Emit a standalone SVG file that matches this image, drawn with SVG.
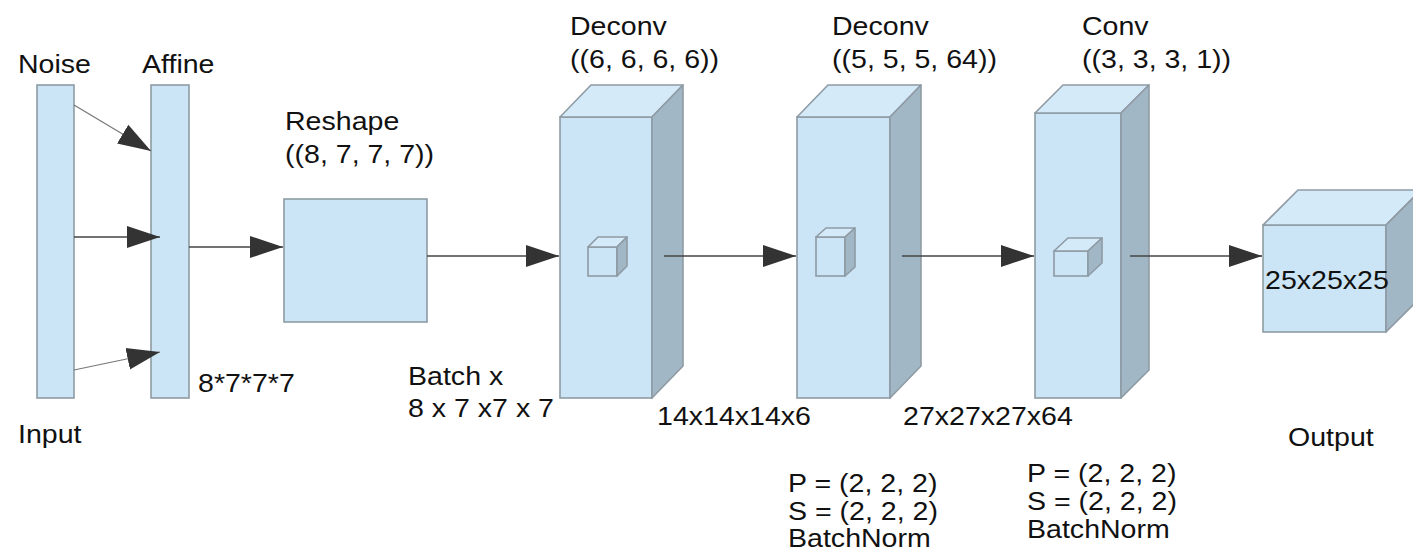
<svg xmlns="http://www.w3.org/2000/svg" width="1413" height="558" viewBox="0 0 1413 558">
<defs>
<style>
.front{fill:#cce5f6;stroke:#8e9ba4;stroke-width:1.6}
.top{fill:#d5eaf8;stroke:#8e9ba4;stroke-width:1.6;stroke-linejoin:round}
.side{fill:#a2b7c5;stroke:#8e9ba4;stroke-width:1.6;stroke-linejoin:round}
.lbl{font-family:"Liberation Sans",Arial,sans-serif;font-size:25.5px;fill:#111}
.conn line{stroke:#444;stroke-width:1.6;marker-end:url(#ah)}
</style>
<marker id="ah" markerUnits="userSpaceOnUse" markerWidth="34" markerHeight="24" refX="33" refY="11" orient="auto" viewBox="0 0 34 22">
<path d="M0,0 L33,11 L0,22 z" fill="#333"/>
</marker>
</defs>
<rect width="1413" height="558" fill="#fff"/>

<g id="noise">
<rect class="front" x="37" y="85" width="37" height="313"/>
<text class="lbl" transform="translate(18,73) scale(1.12,1)">Noise</text>
<text class="lbl" transform="translate(18,443) scale(1.12,1)">Input</text>
</g>

<g id="affine">
<rect class="front" x="151" y="85" width="38" height="313"/>
<text class="lbl" transform="translate(142,73) scale(1.12,1)">Affine</text>
<text class="lbl" transform="translate(198,392) scale(1.12,1)">8*7*7*7</text>
</g>

<g id="reshape">
<rect class="front" x="284" y="199" width="143" height="123"/>
<text class="lbl" transform="translate(285,130) scale(1.12,1)">Reshape</text>
<text class="lbl" transform="translate(285,163) scale(1.12,1)">((8, 7, 7, 7))</text>
<text class="lbl" transform="translate(408,385) scale(1.12,1)">Batch x</text>
<text class="lbl" transform="translate(408,417) scale(1.12,1)">8 x 7 x7 x 7</text>
</g>

<g id="deconv1">
<rect class="front" x="560" y="117" width="92" height="281"/>
<path class="top" d="M560,117 L591,85 L683,85 L652,117 Z"/>
<path class="side" d="M652,117 L683,85 L683,366 L652,398 Z"/>
<rect class="front" x="588" y="247" width="29" height="29"/>
<path class="top" d="M588,247 L598,237 L627,237 L617,247 Z"/>
<path class="side" d="M617,247 L627,237 L627,266 L617,276 Z"/>
<text class="lbl" transform="translate(570,35) scale(1.12,1)">Deconv</text>
<text class="lbl" transform="translate(570,68) scale(1.12,1)">((6, 6, 6, 6))</text>
<text class="lbl" transform="translate(657,425) scale(1.12,1)">14x14x14x6</text>
</g>

<g id="deconv2">
<rect class="front" x="797" y="117" width="93" height="281"/>
<path class="top" d="M797,117 L828,85 L921,85 L890,117 Z"/>
<path class="side" d="M890,117 L921,85 L921,366 L890,398 Z"/>
<rect class="front" x="816" y="237" width="29" height="39"/>
<path class="top" d="M816,237 L826,228 L855,228 L845,237 Z"/>
<path class="side" d="M845,237 L855,228 L855,267 L845,276 Z"/>
<text class="lbl" transform="translate(832,35) scale(1.12,1)">Deconv</text>
<text class="lbl" transform="translate(832,68) scale(1.12,1)">((5, 5, 5, 64))</text>
<text class="lbl" transform="translate(903,425) scale(1.12,1)">27x27x27x64</text>
<text class="lbl" transform="translate(788,492) scale(1.12,1)">P = (2, 2, 2)</text>
<text class="lbl" transform="translate(788,520) scale(1.12,1)">S = (2, 2, 2)</text>
<text class="lbl" transform="translate(788,547) scale(1.12,1)">BatchNorm</text>
</g>

<g id="conv">
<rect class="front" x="1035" y="113" width="86" height="285"/>
<path class="top" d="M1035,113 L1063,85 L1149,85 L1121,113 Z"/>
<path class="side" d="M1121,113 L1149,85 L1149,370 L1121,398 Z"/>
<rect class="front" x="1054" y="251" width="34" height="25"/>
<path class="top" d="M1054,251 L1068,238 L1102,238 L1088,251 Z"/>
<path class="side" d="M1088,251 L1102,238 L1102,263 L1088,276 Z"/>
<text class="lbl" transform="translate(1082,35) scale(1.12,1)">Conv</text>
<text class="lbl" transform="translate(1082,68) scale(1.12,1)">((3, 3, 3, 1))</text>
<text class="lbl" transform="translate(1027,482) scale(1.12,1)">P = (2, 2, 2)</text>
<text class="lbl" transform="translate(1027,510) scale(1.12,1)">S = (2, 2, 2)</text>
<text class="lbl" transform="translate(1027,538) scale(1.12,1)">BatchNorm</text>
</g>

<g id="output">
<rect class="front" x="1263" y="225" width="123" height="107"/>
<path class="top" d="M1263,225 L1298,190 L1421,190 L1386,225 Z"/>
<path class="side" d="M1386,225 L1421,190 L1421,297 L1386,332 Z"/>
<text class="lbl" transform="translate(1265,289) scale(1.12,1)">25x25x25</text>
<text class="lbl" transform="translate(1288,446) scale(1.12,1)">Output</text>
</g>

<g id="connectors" class="conn">
<line x1="74" y1="105" x2="151" y2="151" style="stroke:#777;stroke-width:1.2"/>
<line x1="74" y1="237" x2="160" y2="237"/>
<line x1="74" y1="370" x2="160" y2="352" style="stroke:#777;stroke-width:1.2"/>
<line x1="189" y1="247" x2="283" y2="247"/>
<line x1="427" y1="256" x2="559" y2="256"/>
<line x1="664" y1="256" x2="796" y2="256"/>
<line x1="902" y1="256" x2="1034" y2="256"/>
<line x1="1130" y1="256" x2="1262" y2="256"/>
</g>
</svg>
